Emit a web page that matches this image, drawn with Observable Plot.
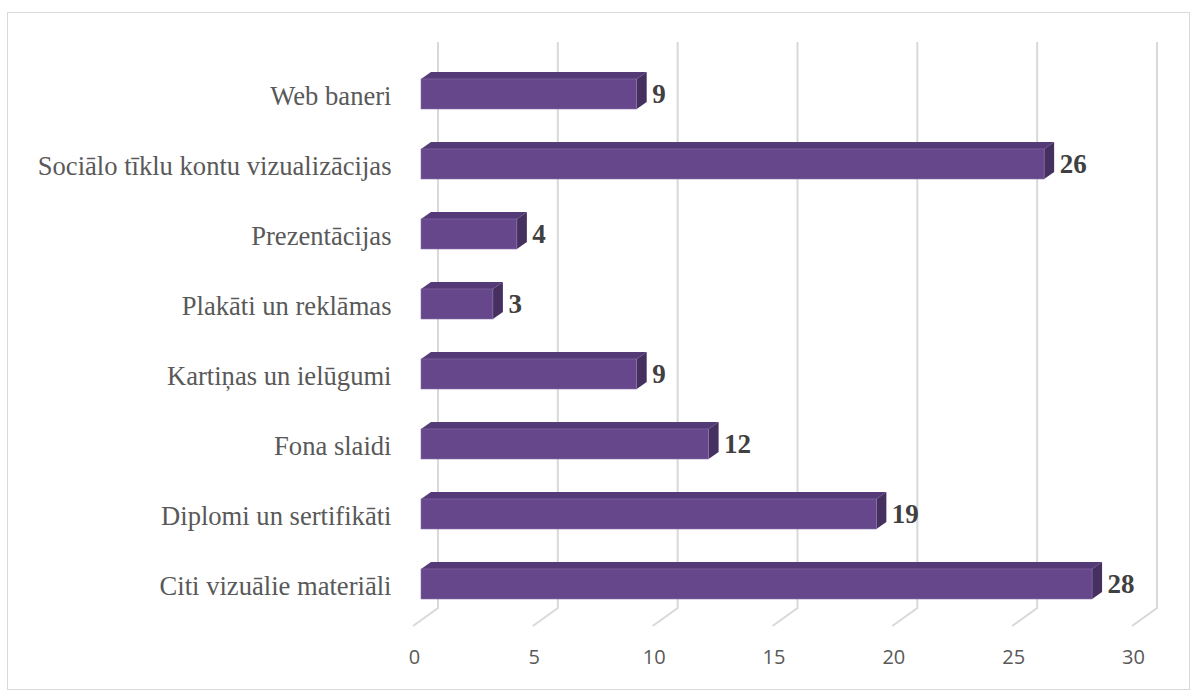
<!DOCTYPE html>
<html>
<head>
<meta charset="utf-8">
<script src="https://cdn.jsdelivr.net/npm/d3@7"></script>
<script src="https://cdn.jsdelivr.net/npm/@observablehq/plot@0.6"></script>
<style>
  html, body { margin: 0; padding: 0; background: #fff; }
  #wrap { position: relative; width: 1196px; height: 695px; }
  #frame { position: absolute; left: 7px; top: 12px; width: 1181px; height: 676px; border: 1.5px solid #d9d9d9; pointer-events: none; }
  #chart { position: absolute; left: 0; top: 0; }
</style>
</head>
<body>
<div id="wrap"><div id="chart"></div><div id="frame"></div></div>
<script>
const categories = [
  "Web baneri",
  "Sociālo tīklu kontu vizualizācijas",
  "Prezentācijas",
  "Plakāti un reklāmas",
  "Kartiņas un ielūgumi",
  "Fona slaidi",
  "Diplomi un sertifikāti",
  "Citi vizuālie materiāli"
];
const values = [9, 26, 4, 3, 9, 12, 19, 28];
const xTicks = [0, 5, 10, 15, 20, 25, 30];

const data = categories.map((c, i) => ({category: c, value: values[i]}));

const DX = 10, DY = -7;          // 3D depth offset of bars
const GBX = 17, GFX = -8;        // grid back / front offsets
const gridTop = 42, gridBack = 608, gridFront = 626;

function findScales(args) {
  return args.find(a => a && typeof a.x === "function" && typeof a.y === "function");
}

function gridMark(...args) {
  const s = findScales(args);
  const g = d3.create("svg:g").attr("fill", "none").attr("stroke", "#d9d9d9").attr("stroke-width", 2);
  for (const t of xTicks) {
    const x = s.x(t);
    g.append("path").attr("d", `M${x + GBX},${gridTop}V${gridBack}L${x + GFX},${gridFront}`);
  }
  return g.node();
}

function depthMark(...args) {
  const s = findScales(args);
  const bw = s.y.bandwidth();
  const g = d3.create("svg:g");
  for (const d of data) {
    const x0 = s.x(0), x1 = s.x(d.value), y = s.y(d.category);
    g.append("path")
      .attr("fill", "#553a78")
      .attr("d", `M${x0},${y}L${x0 + DX},${y + DY}L${x1 + DX},${y + DY}L${x1},${y}Z`);
    g.append("path")
      .attr("fill", "#45305f")
      .attr("d", `M${x1},${y}L${x1 + DX},${y + DY}L${x1 + DX},${y + bw + DY}L${x1},${y + bw}Z`);
  }
  return g.node();
}

const chart = Plot.plot({
  width: 1196,
  height: 695,
  marginLeft: 421,
  marginRight: 56,
  marginTop: 35.3,
  marginBottom: 53.4,
  x: {domain: [0, 30], axis: null},
  y: {domain: categories, padding: 0.576, axis: null},
  marks: [
    gridMark,
    depthMark,
    Plot.barX(data, {x: "value", y: "category", fill: "#66478c", stroke: "#8a72aa", strokeWidth: 0.6}),
    Plot.text(data, {
      x: "value", y: "category", text: d => String(d.value),
      dx: 15, dy: 0, textAnchor: "start",
      fontFamily: "'Liberation Serif', serif", fontSize: 27, fontWeight: "bold", fill: "#404040"
    }),
    Plot.axisY({
      tickSize: 0, tickPadding: 30, dy: 2, label: null,
      fontFamily: "'Liberation Serif', serif", fontSize: 26.6, color: "#595959"
    }),
    Plot.axisX(xTicks, {
      tickSize: 0, tickPadding: 8, dx: -7, label: null,
      fontFamily: "'Open Sans', sans-serif", fontSize: 20, color: "#595959"
    })
  ]
});
document.getElementById("chart").appendChild(chart);
</script>
</body>
</html>
